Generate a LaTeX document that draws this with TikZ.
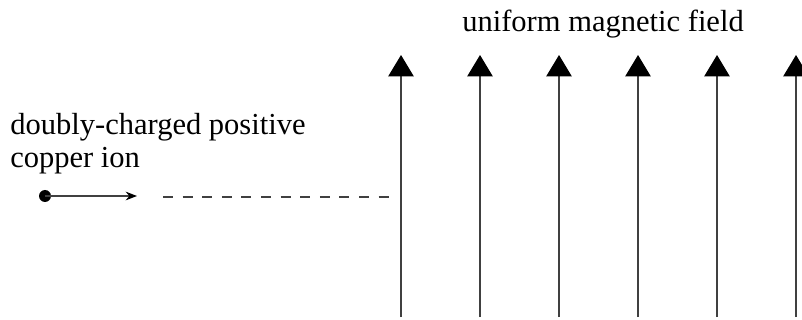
\documentclass[tikz,border=0pt]{standalone}
\usepackage{fontspec}
\setmainfont{Liberation Serif}
\usetikzlibrary{arrows.meta}

\begin{document}
\begin{tikzpicture}[x=0.75pt,y=-0.75pt,
    fieldline/.style={line width=1pt, black!75, -{Triangle[width=19pt,length=16pt,color=black]}},
    txt/.style={inner sep=0pt, font=\fontsize{22.9}{24.75}\selectfont}]
\useasboundingbox (0,0) rectangle (802,320);
\node[txt, anchor=base] (B) at (603,32) {uniform magnetic field};
\node[txt, anchor=base west, align=left] (L) at (10,168) {doubly-charged positive\\copper ion};
\node[circle, fill, inner sep=0pt, minimum size=9pt] (I) at (45,196) {};
\coordinate (V) at (137,196);
\draw [-{Stealth[length=8.5pt,width=6.5pt,color=black]}, line width=1pt, black!75] (I.center) to (V);
\coordinate (D1) at (163,197);
\coordinate (D2) at (395,197);
\draw [dashed, dash pattern=on 7.5pt off 7.2pt, line width=0.8pt, black!75] (D1) to (D2);
\foreach \i [evaluate=\i as \x using 401+79*(\i-1)] in {1,...,6} {
  \coordinate (b\i) at (\x,317);
  \coordinate (t\i) at (\x,55);
  \draw [fieldline] (b\i) to (t\i);
}
\end{tikzpicture}
\end{document}
